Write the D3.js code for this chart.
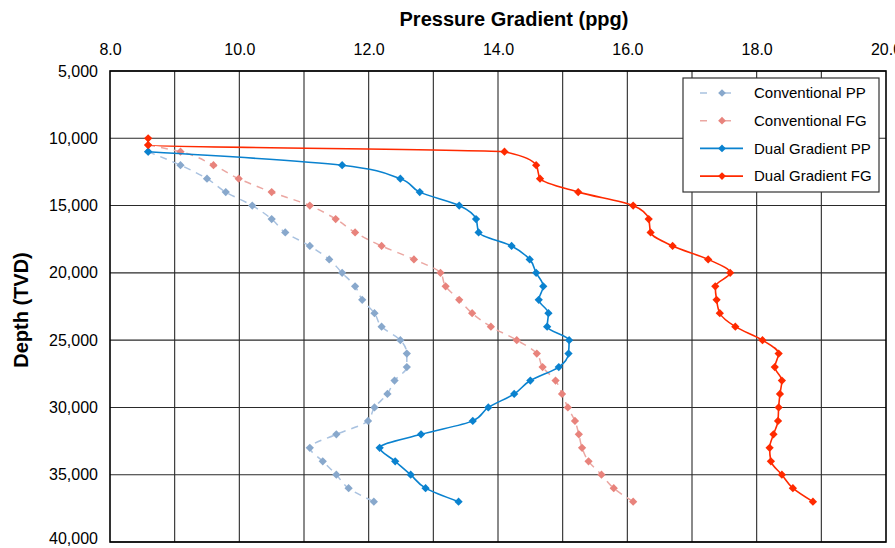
<!DOCTYPE html>
<html>
<head>
<meta charset="utf-8">
<style>
body { margin: 0; background: #fff; font-family: "Liberation Sans", Arial, sans-serif; }
svg { display: block; }
</style>
</head>
<body>
<div id="chart"></div>
<script src="https://d3js.org/d3.v7.min.js"></script>
<script>

// depths (ft TVD) and gradients (ppg)
var convPPDepth = [11000, 12000, 13000, 14000, 15000, 16000, 17000, 18000, 19000, 20000,
  21000, 22000, 23000, 24000, 25000, 26000, 27000, 28000, 29000, 30000,
  31000, 32000, 33000, 34000, 35000, 36000, 37000];
var convPP = [8.59, 9.09, 9.50, 9.79, 10.20, 10.50, 10.71, 11.09, 11.39, 11.59,
  11.79, 11.90, 12.09, 12.20, 12.49, 12.59, 12.59, 12.40, 12.29, 12.09,
  11.99, 11.50, 11.09, 11.29, 11.50, 11.69, 12.08];

var convFGDepth = [10500, 11000, 12000, 13000, 14000, 15000, 16000, 17000, 18000, 19000, 20000,
  21000, 22000, 23000, 24000, 25000, 26000, 27000, 28000, 29000, 30000,
  31000, 32000, 33000, 34000, 35000, 36000, 37000];
var convFG = [8.59, 9.09, 9.60, 9.99, 10.50, 11.09, 11.49, 11.79, 12.20, 12.70, 13.11,
  13.19, 13.40, 13.60, 13.89, 14.29, 14.60, 14.69, 14.89, 14.99, 15.08,
  15.19, 15.25, 15.30, 15.40, 15.60, 15.79, 16.09];

var dualPPDepth = [11000, 12000, 13000, 14000, 15000, 16000, 17000, 18000, 19000, 20000,
  21000, 22000, 23000, 24000, 25000, 26000, 27000, 28000, 29000, 30000,
  31000, 32000, 33000, 34000, 35000, 36000, 37000];
var dualPP = [8.59, 11.59, 12.49, 12.79, 13.40, 13.66, 13.70, 14.21, 14.49, 14.59,
  14.70, 14.63, 14.78, 14.76, 15.10, 15.09, 14.94, 14.50, 14.25, 13.85,
  13.61, 12.81, 12.17, 12.41, 12.65, 12.88, 13.39];

var dualFGDepth = [10000, 10500, 11000, 12000, 13000, 14000, 15000, 16000, 17000, 18000, 19000, 20000,
  21000, 22000, 23000, 24000, 25000, 26000, 27000, 28000, 29000, 30000,
  31000, 32000, 33000, 34000, 35000, 36000, 37000];
var dualFG = [8.59, 8.59, 14.10, 14.59, 14.65, 15.24, 16.09, 16.33, 16.36, 16.70, 17.25, 17.59,
  17.36, 17.38, 17.43, 17.67, 18.09, 18.34, 18.28, 18.39, 18.36, 18.34,
  18.33, 18.26, 18.20, 18.22, 18.39, 18.56, 18.87];

var seriesNames = ["Conventional PP", "Conventional FG", "Dual Gradient PP", "Dual Gradient FG"];
var xTicks = [8, 10, 12, 14, 16, 18, 20];
var xGrid = [9, 10, 11, 12, 13, 14, 15, 16, 17, 18, 19];
var yTicks = [5000, 10000, 15000, 20000, 25000, 30000, 35000, 40000];

// set the dimensions and margins of the graph
var margin = {top: 71, right: 9, bottom: 6, left: 110},
    width = 895 - margin.left - margin.right,
    height = 548 - margin.top - margin.bottom;

var x = d3.scaleLinear().domain([8, 20]).range([0, width]);
var y = d3.scaleLinear().domain([5000, 40000]).range([0, height]);

var styles = [
  {line: "#a9c2e0", mark: "#88a8cc", dash: "7,6", width: 1.5},
  {line: "#eba7a2", mark: "#e8837c", dash: "7,6", width: 1.5},
  {line: "#0a82cf", mark: "#0a82cf", dash: null, width: 1.6},
  {line: "#ff2a00", mark: "#ff2a00", dash: null, width: 1.6}
];

var series = [
  {name: seriesNames[0], depth: convPPDepth, ppg: convPP},
  {name: seriesNames[1], depth: convFGDepth, ppg: convFG},
  {name: seriesNames[2], depth: dualPPDepth, ppg: dualPP},
  {name: seriesNames[3], depth: dualFGDepth, ppg: dualFG}
].map(function(s, i) {
  s.style = styles[i];
  s.points = s.depth.map(function(d, j) { return {d: d, v: s.ppg[j]}; });
  return s;
});

var root = d3.select("#chart").append("svg")
    .attr("width", 895)
    .attr("height", 548);

var svg = root.append("g")
    .attr("transform", "translate(" + margin.left + "," + margin.top + ")");

// grid
svg.selectAll(".vgrid").data(xGrid).enter().append("line")
    .attr("x1", function(d) { return x(d); }).attr("x2", function(d) { return x(d); })
    .attr("y1", 0).attr("y2", height)
    .attr("stroke", "#2a2a2a").attr("stroke-width", 1.1);

svg.selectAll(".hgrid").data(yTicks).enter().append("line")
    .attr("x1", 0).attr("x2", width)
    .attr("y1", function(d) { return y(d); }).attr("y2", function(d) { return y(d); })
    .attr("stroke", "#2a2a2a").attr("stroke-width", 1.1);

// top axis labels
var xAxis = d3.axisTop(x).tickValues(xTicks).tickSize(0).tickPadding(16)
    .tickFormat(d3.format(".1f"));
svg.append("g").call(xAxis)
    .call(function(g) { g.select(".domain").remove(); })
    .selectAll("text")
      .attr("font-family", "Liberation Sans, Arial, sans-serif")
      .attr("font-size", 16)
      .attr("fill", "#000");

var yAxis = d3.axisLeft(y).tickValues(yTicks).tickSize(0).tickPadding(12)
    .tickFormat(d3.format(","));
svg.append("g").call(yAxis)
    .call(function(g) { g.select(".domain").remove(); })
    .selectAll("text")
      .attr("font-family", "Liberation Sans, Arial, sans-serif")
      .attr("font-size", 16)
      .attr("fill", "#000")
      .attr("dy", function(d) { return d === 40000 ? "0.1em" : "0.32em"; });

// plot frame
svg.append("rect")
    .attr("width", width).attr("height", height)
    .attr("fill", "none").attr("stroke", "#000").attr("stroke-width", 1.6);

// titles
root.append("text")
    .attr("x", 514).attr("y", 26)
    .attr("text-anchor", "middle")
    .attr("font-size", 20).attr("font-weight", "bold")
    .text("Pressure Gradient (ppg)");

root.append("text")
    .attr("transform", "translate(28," + 310 + ") rotate(-90)")
    .attr("text-anchor", "middle")
    .attr("font-size", 20).attr("font-weight", "bold")
    .text("Depth (TVD)");

// lines and markers (depth is the independent variable, so smooth along y)
var line = d3.line()
    .x(function(d) { return x(d.v); })
    .y(function(d) { return y(d.d); })
    .curve(d3.curveMonotoneY);

var diamond = d3.symbol().type(d3.symbolSquare).size(34);

series.forEach(function(s) {
  var g = svg.append("g");
  g.append("path")
      .datum(s.points)
      .attr("d", line)
      .attr("fill", "none")
      .attr("stroke", s.style.line)
      .attr("stroke-width", s.style.width)
      .attr("stroke-dasharray", s.style.dash);
  g.selectAll("path.pt")
      .data(s.points)
    .enter().append("path")
      .attr("class", "pt")
      .attr("d", diamond)
      .attr("transform", function(d) { return "translate(" + x(d.v) + "," + y(d.d) + ") rotate(45)"; })
      .attr("fill", s.style.mark);
});

// legend
var legend = root.append("g").attr("transform", "translate(683,78)");
legend.append("rect")
    .attr("width", 196).attr("height", 114)
    .attr("fill", "#fff").attr("stroke", "#333").attr("stroke-width", 1.2);

var rows = legend.selectAll(".row").data(series).enter().append("g")
    .attr("transform", function(d, i) { return "translate(0," + (15 + i * 27.7) + ")"; });

rows.append("line")
    .attr("x1", 17).attr("x2", 60)
    .attr("stroke", function(d) { return d.style.line; })
    .attr("stroke-width", function(d) { return d.style.width; })
    .attr("stroke-dasharray", function(d) { return d.style.dash ? "7,12,0,5" : null; });

rows.append("path")
    .attr("d", d3.symbol().type(d3.symbolSquare).size(30))
    .attr("transform", "translate(39,0) rotate(45)")
    .attr("fill", function(d) { return d.style.mark; });

rows.append("text")
    .attr("x", 71).attr("dy", "0.35em")
    .attr("font-size", 15)
    .text(function(d) { return d.name; });

</script>
</body>
</html>
